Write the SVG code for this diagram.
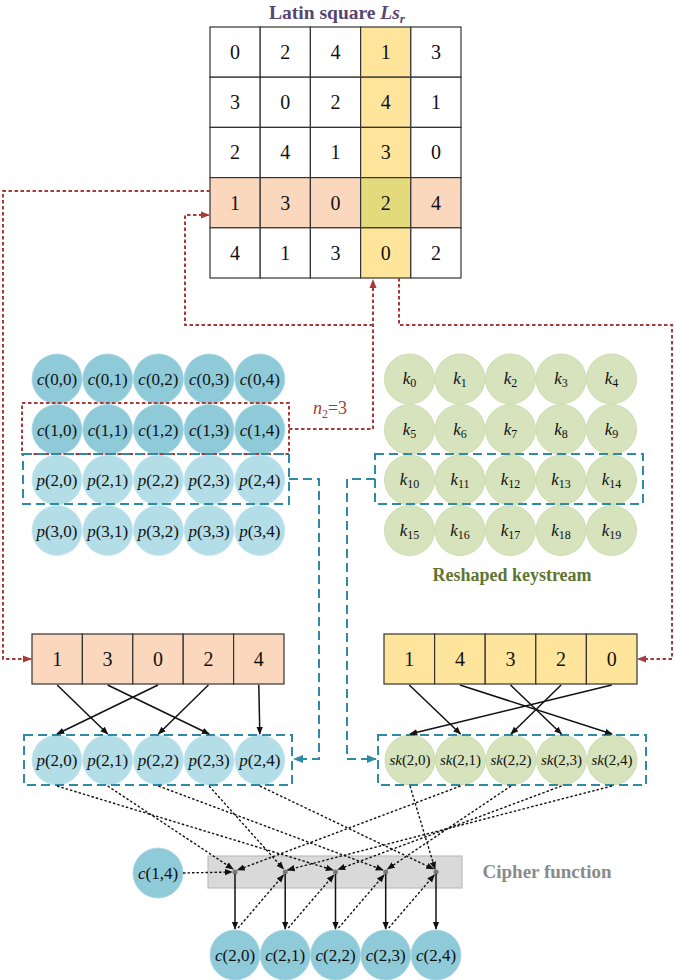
<svg xmlns="http://www.w3.org/2000/svg" width="674" height="980" viewBox="0 0 674 980" font-family="'Liberation Serif', 'DejaVu Serif', serif">
<style>
text{font-family:'Liberation Serif','DejaVu Serif',serif;fill:#111}
.num{font-size:20px;text-anchor:middle}
.lbl{font-size:17px;text-anchor:middle}
.sk{font-size:15px;text-anchor:middle}
.it{font-style:italic}
.cell{stroke:#333;stroke-width:1.2}
.w{fill:#fff}.pe{fill:#fbd8bd}.ye{fill:#fee59b}.ol{fill:#e3da7c}
.cc{fill:#8fcad9;stroke:#a7d6e2;stroke-width:0.8}
.pc{fill:#b3dde7;stroke:#c6e6ee;stroke-width:0.8}
.kc{fill:#d6e3bd;stroke:#c5d7a2;stroke-width:0.8}
.red{fill:none;stroke:#a53b3b;stroke-width:2;stroke-dasharray:3.5 2.5}
.teal{fill:none;stroke:#2f8aa5;stroke-width:2;stroke-dasharray:9 5}
.sol{stroke:#111;stroke-width:1.5;fill:none}
.dot{stroke:#111;stroke-width:1.4;stroke-dasharray:2.5 2;fill:none}
</style>
<defs>
<marker id="ab" viewBox="0 0 10 10" refX="9" refY="5" markerWidth="8" markerHeight="8" markerUnits="userSpaceOnUse" orient="auto"><path d="M0,1 L10,5 L0,9 z" fill="#111"/></marker>
<marker id="ar" viewBox="0 0 10 10" refX="9" refY="5" markerWidth="9" markerHeight="9" markerUnits="userSpaceOnUse" orient="auto"><path d="M0,1 L10,5 L0,9 z" fill="#a53b3b"/></marker>
<marker id="at" viewBox="0 0 10 10" refX="9" refY="5" markerWidth="10" markerHeight="10" markerUnits="userSpaceOnUse" orient="auto"><path d="M0,1 L10,5 L0,9 z" fill="#2f8aa5"/></marker>
</defs>
<rect width="674" height="980" fill="#fff"/>

<g id="title">
<text x="337" y="19" font-family="Liberation Serif" style="font-size:19.5px;font-weight:bold;fill:#574673" text-anchor="middle">Latin square <tspan font-style="italic" style="fill:#574673">Ls</tspan><tspan font-style="italic" font-size="13" dy="4" style="fill:#574673">r</tspan></text>
</g>

<g id="latin-square">
<rect class="cell w" x="210" y="27" width="50.2" height="50.2"/><rect class="cell w" x="260.2" y="27" width="50.2" height="50.2"/><rect class="cell w" x="310.4" y="27" width="50.2" height="50.2"/><rect class="cell ye" x="360.6" y="27" width="50.2" height="50.2"/><rect class="cell w" x="410.8" y="27" width="50.2" height="50.2"/>
<rect class="cell w" x="210" y="77.2" width="50.2" height="50.2"/><rect class="cell w" x="260.2" y="77.2" width="50.2" height="50.2"/><rect class="cell w" x="310.4" y="77.2" width="50.2" height="50.2"/><rect class="cell ye" x="360.6" y="77.2" width="50.2" height="50.2"/><rect class="cell w" x="410.8" y="77.2" width="50.2" height="50.2"/>
<rect class="cell w" x="210" y="127.4" width="50.2" height="50.2"/><rect class="cell w" x="260.2" y="127.4" width="50.2" height="50.2"/><rect class="cell w" x="310.4" y="127.4" width="50.2" height="50.2"/><rect class="cell ye" x="360.6" y="127.4" width="50.2" height="50.2"/><rect class="cell w" x="410.8" y="127.4" width="50.2" height="50.2"/>
<rect class="cell pe" x="210" y="177.6" width="50.2" height="50.2"/><rect class="cell pe" x="260.2" y="177.6" width="50.2" height="50.2"/><rect class="cell pe" x="310.4" y="177.6" width="50.2" height="50.2"/><rect class="cell ol" x="360.6" y="177.6" width="50.2" height="50.2"/><rect class="cell pe" x="410.8" y="177.6" width="50.2" height="50.2"/>
<rect class="cell w" x="210" y="227.8" width="50.2" height="50.2"/><rect class="cell w" x="260.2" y="227.8" width="50.2" height="50.2"/><rect class="cell w" x="310.4" y="227.8" width="50.2" height="50.2"/><rect class="cell ye" x="360.6" y="227.8" width="50.2" height="50.2"/><rect class="cell w" x="410.8" y="227.8" width="50.2" height="50.2"/>
<text class="num" x="235.1" y="59">0</text><text class="num" x="285.3" y="59">2</text><text class="num" x="335.5" y="59">4</text><text class="num" x="385.7" y="59">1</text><text class="num" x="435.9" y="59">3</text>
<text class="num" x="235.1" y="109.2">3</text><text class="num" x="285.3" y="109.2">0</text><text class="num" x="335.5" y="109.2">2</text><text class="num" x="385.7" y="109.2">4</text><text class="num" x="435.9" y="109.2">1</text>
<text class="num" x="235.1" y="159.4">2</text><text class="num" x="285.3" y="159.4">4</text><text class="num" x="335.5" y="159.4">1</text><text class="num" x="385.7" y="159.4">3</text><text class="num" x="435.9" y="159.4">0</text>
<text class="num" x="235.1" y="209.6">1</text><text class="num" x="285.3" y="209.6">3</text><text class="num" x="335.5" y="209.6">0</text><text class="num" x="385.7" y="209.6">2</text><text class="num" x="435.9" y="209.6">4</text>
<text class="num" x="235.1" y="259.8">4</text><text class="num" x="285.3" y="259.8">1</text><text class="num" x="335.5" y="259.8">3</text><text class="num" x="385.7" y="259.8">0</text><text class="num" x="435.9" y="259.8">2</text>
</g>

<g id="cipher-grid">
<circle class="cc" cx="57" cy="379" r="25"/><circle class="cc" cx="107.7" cy="379" r="25"/><circle class="cc" cx="158.4" cy="379" r="25"/><circle class="cc" cx="209.1" cy="379" r="25"/><circle class="cc" cx="259.8" cy="379" r="25"/>
<circle class="cc" cx="57" cy="429.5" r="25"/><circle class="cc" cx="107.7" cy="429.5" r="25"/><circle class="cc" cx="158.4" cy="429.5" r="25"/><circle class="cc" cx="209.1" cy="429.5" r="25"/><circle class="cc" cx="259.8" cy="429.5" r="25"/>
<circle class="pc" cx="57" cy="480" r="25"/><circle class="pc" cx="107.7" cy="480" r="25"/><circle class="pc" cx="158.4" cy="480" r="25"/><circle class="pc" cx="209.1" cy="480" r="25"/><circle class="pc" cx="259.8" cy="480" r="25"/>
<circle class="pc" cx="57" cy="530.5" r="25"/><circle class="pc" cx="107.7" cy="530.5" r="25"/><circle class="pc" cx="158.4" cy="530.5" r="25"/><circle class="pc" cx="209.1" cy="530.5" r="25"/><circle class="pc" cx="259.8" cy="530.5" r="25"/>
<text class="lbl" x="57" y="385"><tspan class="it">c</tspan>(0,0)</text><text class="lbl" x="107.7" y="385"><tspan class="it">c</tspan>(0,1)</text><text class="lbl" x="158.4" y="385"><tspan class="it">c</tspan>(0,2)</text><text class="lbl" x="209.1" y="385"><tspan class="it">c</tspan>(0,3)</text><text class="lbl" x="259.8" y="385"><tspan class="it">c</tspan>(0,4)</text>
<text class="lbl" x="57" y="435.5"><tspan class="it">c</tspan>(1,0)</text><text class="lbl" x="107.7" y="435.5"><tspan class="it">c</tspan>(1,1)</text><text class="lbl" x="158.4" y="435.5"><tspan class="it">c</tspan>(1,2)</text><text class="lbl" x="209.1" y="435.5"><tspan class="it">c</tspan>(1,3)</text><text class="lbl" x="259.8" y="435.5"><tspan class="it">c</tspan>(1,4)</text>
<text class="lbl" x="57" y="486"><tspan class="it">p</tspan>(2,0)</text><text class="lbl" x="107.7" y="486"><tspan class="it">p</tspan>(2,1)</text><text class="lbl" x="158.4" y="486"><tspan class="it">p</tspan>(2,2)</text><text class="lbl" x="209.1" y="486"><tspan class="it">p</tspan>(2,3)</text><text class="lbl" x="259.8" y="486"><tspan class="it">p</tspan>(2,4)</text>
<text class="lbl" x="57" y="536.5"><tspan class="it">p</tspan>(3,0)</text><text class="lbl" x="107.7" y="536.5"><tspan class="it">p</tspan>(3,1)</text><text class="lbl" x="158.4" y="536.5"><tspan class="it">p</tspan>(3,2)</text><text class="lbl" x="209.1" y="536.5"><tspan class="it">p</tspan>(3,3)</text><text class="lbl" x="259.8" y="536.5"><tspan class="it">p</tspan>(3,4)</text>
<rect class="red" x="22" y="403" width="267" height="51"/>
<rect class="teal" x="23" y="454" width="266" height="50"/>
<text x="330" y="414" text-anchor="middle" style="font-size:18px;fill:#a53b3b"><tspan font-style="italic" style="fill:#a53b3b">n</tspan><tspan font-size="12" dy="4" style="fill:#a53b3b">2</tspan><tspan dy="-4" style="fill:#a53b3b">=3</tspan></text>
</g>

<g id="keystream-grid">
<circle class="kc" cx="409.5" cy="379" r="25"/><circle class="kc" cx="460" cy="379" r="25"/><circle class="kc" cx="510.5" cy="379" r="25"/><circle class="kc" cx="561" cy="379" r="25"/><circle class="kc" cx="611.5" cy="379" r="25"/>
<circle class="kc" cx="409.5" cy="429.5" r="25"/><circle class="kc" cx="460" cy="429.5" r="25"/><circle class="kc" cx="510.5" cy="429.5" r="25"/><circle class="kc" cx="561" cy="429.5" r="25"/><circle class="kc" cx="611.5" cy="429.5" r="25"/>
<circle class="kc" cx="409.5" cy="480" r="25"/><circle class="kc" cx="460" cy="480" r="25"/><circle class="kc" cx="510.5" cy="480" r="25"/><circle class="kc" cx="561" cy="480" r="25"/><circle class="kc" cx="611.5" cy="480" r="25"/>
<circle class="kc" cx="409.5" cy="530.5" r="25"/><circle class="kc" cx="460" cy="530.5" r="25"/><circle class="kc" cx="510.5" cy="530.5" r="25"/><circle class="kc" cx="561" cy="530.5" r="25"/><circle class="kc" cx="611.5" cy="530.5" r="25"/>
<text class="lbl" x="409.5" y="384"><tspan class="it">k</tspan><tspan font-size="12" dy="3">0</tspan></text><text class="lbl" x="460" y="384"><tspan class="it">k</tspan><tspan font-size="12" dy="3">1</tspan></text><text class="lbl" x="510.5" y="384"><tspan class="it">k</tspan><tspan font-size="12" dy="3">2</tspan></text><text class="lbl" x="561" y="384"><tspan class="it">k</tspan><tspan font-size="12" dy="3">3</tspan></text><text class="lbl" x="611.5" y="384"><tspan class="it">k</tspan><tspan font-size="12" dy="3">4</tspan></text>
<text class="lbl" x="409.5" y="434.5"><tspan class="it">k</tspan><tspan font-size="12" dy="3">5</tspan></text><text class="lbl" x="460" y="434.5"><tspan class="it">k</tspan><tspan font-size="12" dy="3">6</tspan></text><text class="lbl" x="510.5" y="434.5"><tspan class="it">k</tspan><tspan font-size="12" dy="3">7</tspan></text><text class="lbl" x="561" y="434.5"><tspan class="it">k</tspan><tspan font-size="12" dy="3">8</tspan></text><text class="lbl" x="611.5" y="434.5"><tspan class="it">k</tspan><tspan font-size="12" dy="3">9</tspan></text>
<text class="lbl" x="409.5" y="485"><tspan class="it">k</tspan><tspan font-size="12" dy="3">10</tspan></text><text class="lbl" x="460" y="485"><tspan class="it">k</tspan><tspan font-size="12" dy="3">11</tspan></text><text class="lbl" x="510.5" y="485"><tspan class="it">k</tspan><tspan font-size="12" dy="3">12</tspan></text><text class="lbl" x="561" y="485"><tspan class="it">k</tspan><tspan font-size="12" dy="3">13</tspan></text><text class="lbl" x="611.5" y="485"><tspan class="it">k</tspan><tspan font-size="12" dy="3">14</tspan></text>
<text class="lbl" x="409.5" y="535.5"><tspan class="it">k</tspan><tspan font-size="12" dy="3">15</tspan></text><text class="lbl" x="460" y="535.5"><tspan class="it">k</tspan><tspan font-size="12" dy="3">16</tspan></text><text class="lbl" x="510.5" y="535.5"><tspan class="it">k</tspan><tspan font-size="12" dy="3">17</tspan></text><text class="lbl" x="561" y="535.5"><tspan class="it">k</tspan><tspan font-size="12" dy="3">18</tspan></text><text class="lbl" x="611.5" y="535.5"><tspan class="it">k</tspan><tspan font-size="12" dy="3">19</tspan></text>
<rect class="teal" x="375" y="454" width="268" height="50"/>
<text x="512" y="581" text-anchor="middle" style="font-size:18px;font-weight:bold;fill:#5e7433">Reshaped keystream</text>
</g>

<g id="perm-left">
<rect class="cell pe" x="32" y="634" width="50.4" height="50"/><rect class="cell pe" x="82.4" y="634" width="50.4" height="50"/><rect class="cell pe" x="132.8" y="634" width="50.4" height="50"/><rect class="cell pe" x="183.2" y="634" width="50.4" height="50"/><rect class="cell pe" x="233.6" y="634" width="50.4" height="50"/>
<text class="num" x="57.2" y="666">1</text><text class="num" x="107.6" y="666">3</text><text class="num" x="158" y="666">0</text><text class="num" x="208.4" y="666">2</text><text class="num" x="258.8" y="666">4</text>
</g>

<g id="perm-right">
<rect class="cell ye" x="384" y="634" width="50.6" height="50"/><rect class="cell ye" x="434.6" y="634" width="50.6" height="50"/><rect class="cell ye" x="485.2" y="634" width="50.6" height="50"/><rect class="cell ye" x="535.8" y="634" width="50.6" height="50"/><rect class="cell ye" x="586.4" y="634" width="50.6" height="50"/>
<text class="num" x="409.3" y="666">1</text><text class="num" x="459.9" y="666">4</text><text class="num" x="510.5" y="666">3</text><text class="num" x="561.1" y="666">2</text><text class="num" x="611.7" y="666">0</text>
</g>

<g id="p-row">
<circle class="pc" cx="57" cy="760" r="25"/><circle class="pc" cx="107.7" cy="760" r="25"/><circle class="pc" cx="158.4" cy="760" r="25"/><circle class="pc" cx="209.1" cy="760" r="25"/><circle class="pc" cx="259.8" cy="760" r="25"/>
<text class="lbl" x="57" y="766"><tspan class="it">p</tspan>(2,0)</text><text class="lbl" x="107.7" y="766"><tspan class="it">p</tspan>(2,1)</text><text class="lbl" x="158.4" y="766"><tspan class="it">p</tspan>(2,2)</text><text class="lbl" x="209.1" y="766"><tspan class="it">p</tspan>(2,3)</text><text class="lbl" x="259.8" y="766"><tspan class="it">p</tspan>(2,4)</text>
<rect class="teal" x="24" y="735" width="268" height="50"/>
</g>

<g id="sk-row">
<circle class="kc" cx="410" cy="760" r="25"/><circle class="kc" cx="460.5" cy="760" r="25"/><circle class="kc" cx="511" cy="760" r="25"/><circle class="kc" cx="561.5" cy="760" r="25"/><circle class="kc" cx="612" cy="760" r="25"/>
<text class="sk" x="410" y="765"><tspan class="it">sk</tspan>(2,0)</text><text class="sk" x="460.5" y="765"><tspan class="it">sk</tspan>(2,1)</text><text class="sk" x="511" y="765"><tspan class="it">sk</tspan>(2,2)</text><text class="sk" x="561.5" y="765"><tspan class="it">sk</tspan>(2,3)</text><text class="sk" x="612" y="765"><tspan class="it">sk</tspan>(2,4)</text>
<rect class="teal" x="378" y="735" width="268" height="50"/>
</g>

<g id="cipher-function">
<rect x="208" y="856" width="254" height="32" fill="#d9d9d9" stroke="#bdbdbd" stroke-width="1.2"/>
<text x="547" y="878" text-anchor="middle" style="font-size:19px;font-weight:bold;fill:#8a8a8a">Cipher function</text>
<circle cx="235" cy="872" r="2.5" fill="#777"/><circle cx="285.2" cy="872" r="2.5" fill="#777"/><circle cx="335.5" cy="872" r="2.5" fill="#777"/><circle cx="385.7" cy="872" r="2.5" fill="#777"/><circle cx="436" cy="872" r="2.5" fill="#777"/>
</g>

<g id="c14">
<circle class="cc" cx="158" cy="873" r="25"/>
<text class="lbl" x="158" y="879"><tspan class="it">c</tspan>(1,4)</text>
</g>

<g id="c-row">
<circle class="cc" cx="235" cy="955" r="25"/><circle class="cc" cx="285.2" cy="955" r="25"/><circle class="cc" cx="335.5" cy="955" r="25"/><circle class="cc" cx="385.7" cy="955" r="25"/><circle class="cc" cx="436" cy="955" r="25"/>
<text class="lbl" x="235" y="961"><tspan class="it">c</tspan>(2,0)</text><text class="lbl" x="285.2" y="961"><tspan class="it">c</tspan>(2,1)</text><text class="lbl" x="335.5" y="961"><tspan class="it">c</tspan>(2,2)</text><text class="lbl" x="385.7" y="961"><tspan class="it">c</tspan>(2,3)</text><text class="lbl" x="436" y="961"><tspan class="it">c</tspan>(2,4)</text>
</g>

<g id="connectors">
<path class="red" d="M210,191 H3 V659 H31" marker-end="url(#ar)"/>
<path class="red" d="M289,429 H373 V280" marker-end="url(#ar)"/>
<path class="red" d="M373,325 H185 V215 H209" marker-end="url(#ar)"/>
<path class="red" d="M399,278 V325 H672 V659 H638" marker-end="url(#ar)"/>
<path class="teal" d="M289,479 H319 V759 H294" marker-end="url(#at)"/>
<path class="teal" d="M375,479 H347 V759 H376" marker-end="url(#at)"/>
<line class="sol" x1="57.2" y1="685" x2="107.7" y2="734" marker-end="url(#ab)"/>
<line class="sol" x1="107.6" y1="685" x2="209.1" y2="734" marker-end="url(#ab)"/>
<line class="sol" x1="158" y1="685" x2="57" y2="734" marker-end="url(#ab)"/>
<line class="sol" x1="208.4" y1="685" x2="158.4" y2="734" marker-end="url(#ab)"/>
<line class="sol" x1="258.8" y1="685" x2="259.8" y2="734" marker-end="url(#ab)"/>
<line class="sol" x1="409.3" y1="685" x2="460.5" y2="734" marker-end="url(#ab)"/>
<line class="sol" x1="459.9" y1="685" x2="612" y2="734" marker-end="url(#ab)"/>
<line class="sol" x1="510.5" y1="685" x2="561.5" y2="734" marker-end="url(#ab)"/>
<line class="sol" x1="561.1" y1="685" x2="511" y2="734" marker-end="url(#ab)"/>
<line class="sol" x1="611.7" y1="685" x2="410" y2="734" marker-end="url(#ab)"/>
<line class="dot" x1="107.7" y1="786" x2="233" y2="869" marker-end="url(#ab)"/>
<line class="dot" x1="209.1" y1="786" x2="283.5" y2="869" marker-end="url(#ab)"/>
<line class="dot" x1="57" y1="786" x2="333" y2="870" marker-end="url(#ab)"/>
<line class="dot" x1="158.4" y1="786" x2="383" y2="870" marker-end="url(#ab)"/>
<line class="dot" x1="259.8" y1="786" x2="433.5" y2="869" marker-end="url(#ab)"/>
<line class="dot" x1="460.5" y1="786" x2="237.5" y2="870" marker-end="url(#ab)"/>
<line class="dot" x1="612" y1="786" x2="287.5" y2="870" marker-end="url(#ab)"/>
<line class="dot" x1="561.5" y1="786" x2="338" y2="869.5" marker-end="url(#ab)"/>
<line class="dot" x1="511" y1="786" x2="387.5" y2="869" marker-end="url(#ab)"/>
<line class="dot" x1="410" y1="786" x2="435" y2="869" marker-end="url(#ab)"/>
<line class="dot" x1="183" y1="873" x2="232" y2="872" marker-end="url(#ab)"/>
<line class="sol" x1="235" y1="874" x2="235" y2="929" marker-end="url(#ab)"/>
<line class="sol" x1="285.2" y1="874" x2="285.2" y2="929" marker-end="url(#ab)"/>
<line class="sol" x1="335.5" y1="874" x2="335.5" y2="929" marker-end="url(#ab)"/>
<line class="sol" x1="385.7" y1="874" x2="385.7" y2="929" marker-end="url(#ab)"/>
<line class="sol" x1="436" y1="874" x2="436" y2="929" marker-end="url(#ab)"/>
<line class="dot" x1="238" y1="928" x2="283.5" y2="875" marker-end="url(#ab)"/>
<line class="dot" x1="288.2" y1="928" x2="333.8" y2="875" marker-end="url(#ab)"/>
<line class="dot" x1="338.5" y1="928" x2="384" y2="875" marker-end="url(#ab)"/>
<line class="dot" x1="388.7" y1="928" x2="434.3" y2="875" marker-end="url(#ab)"/>
</g>
</svg>
